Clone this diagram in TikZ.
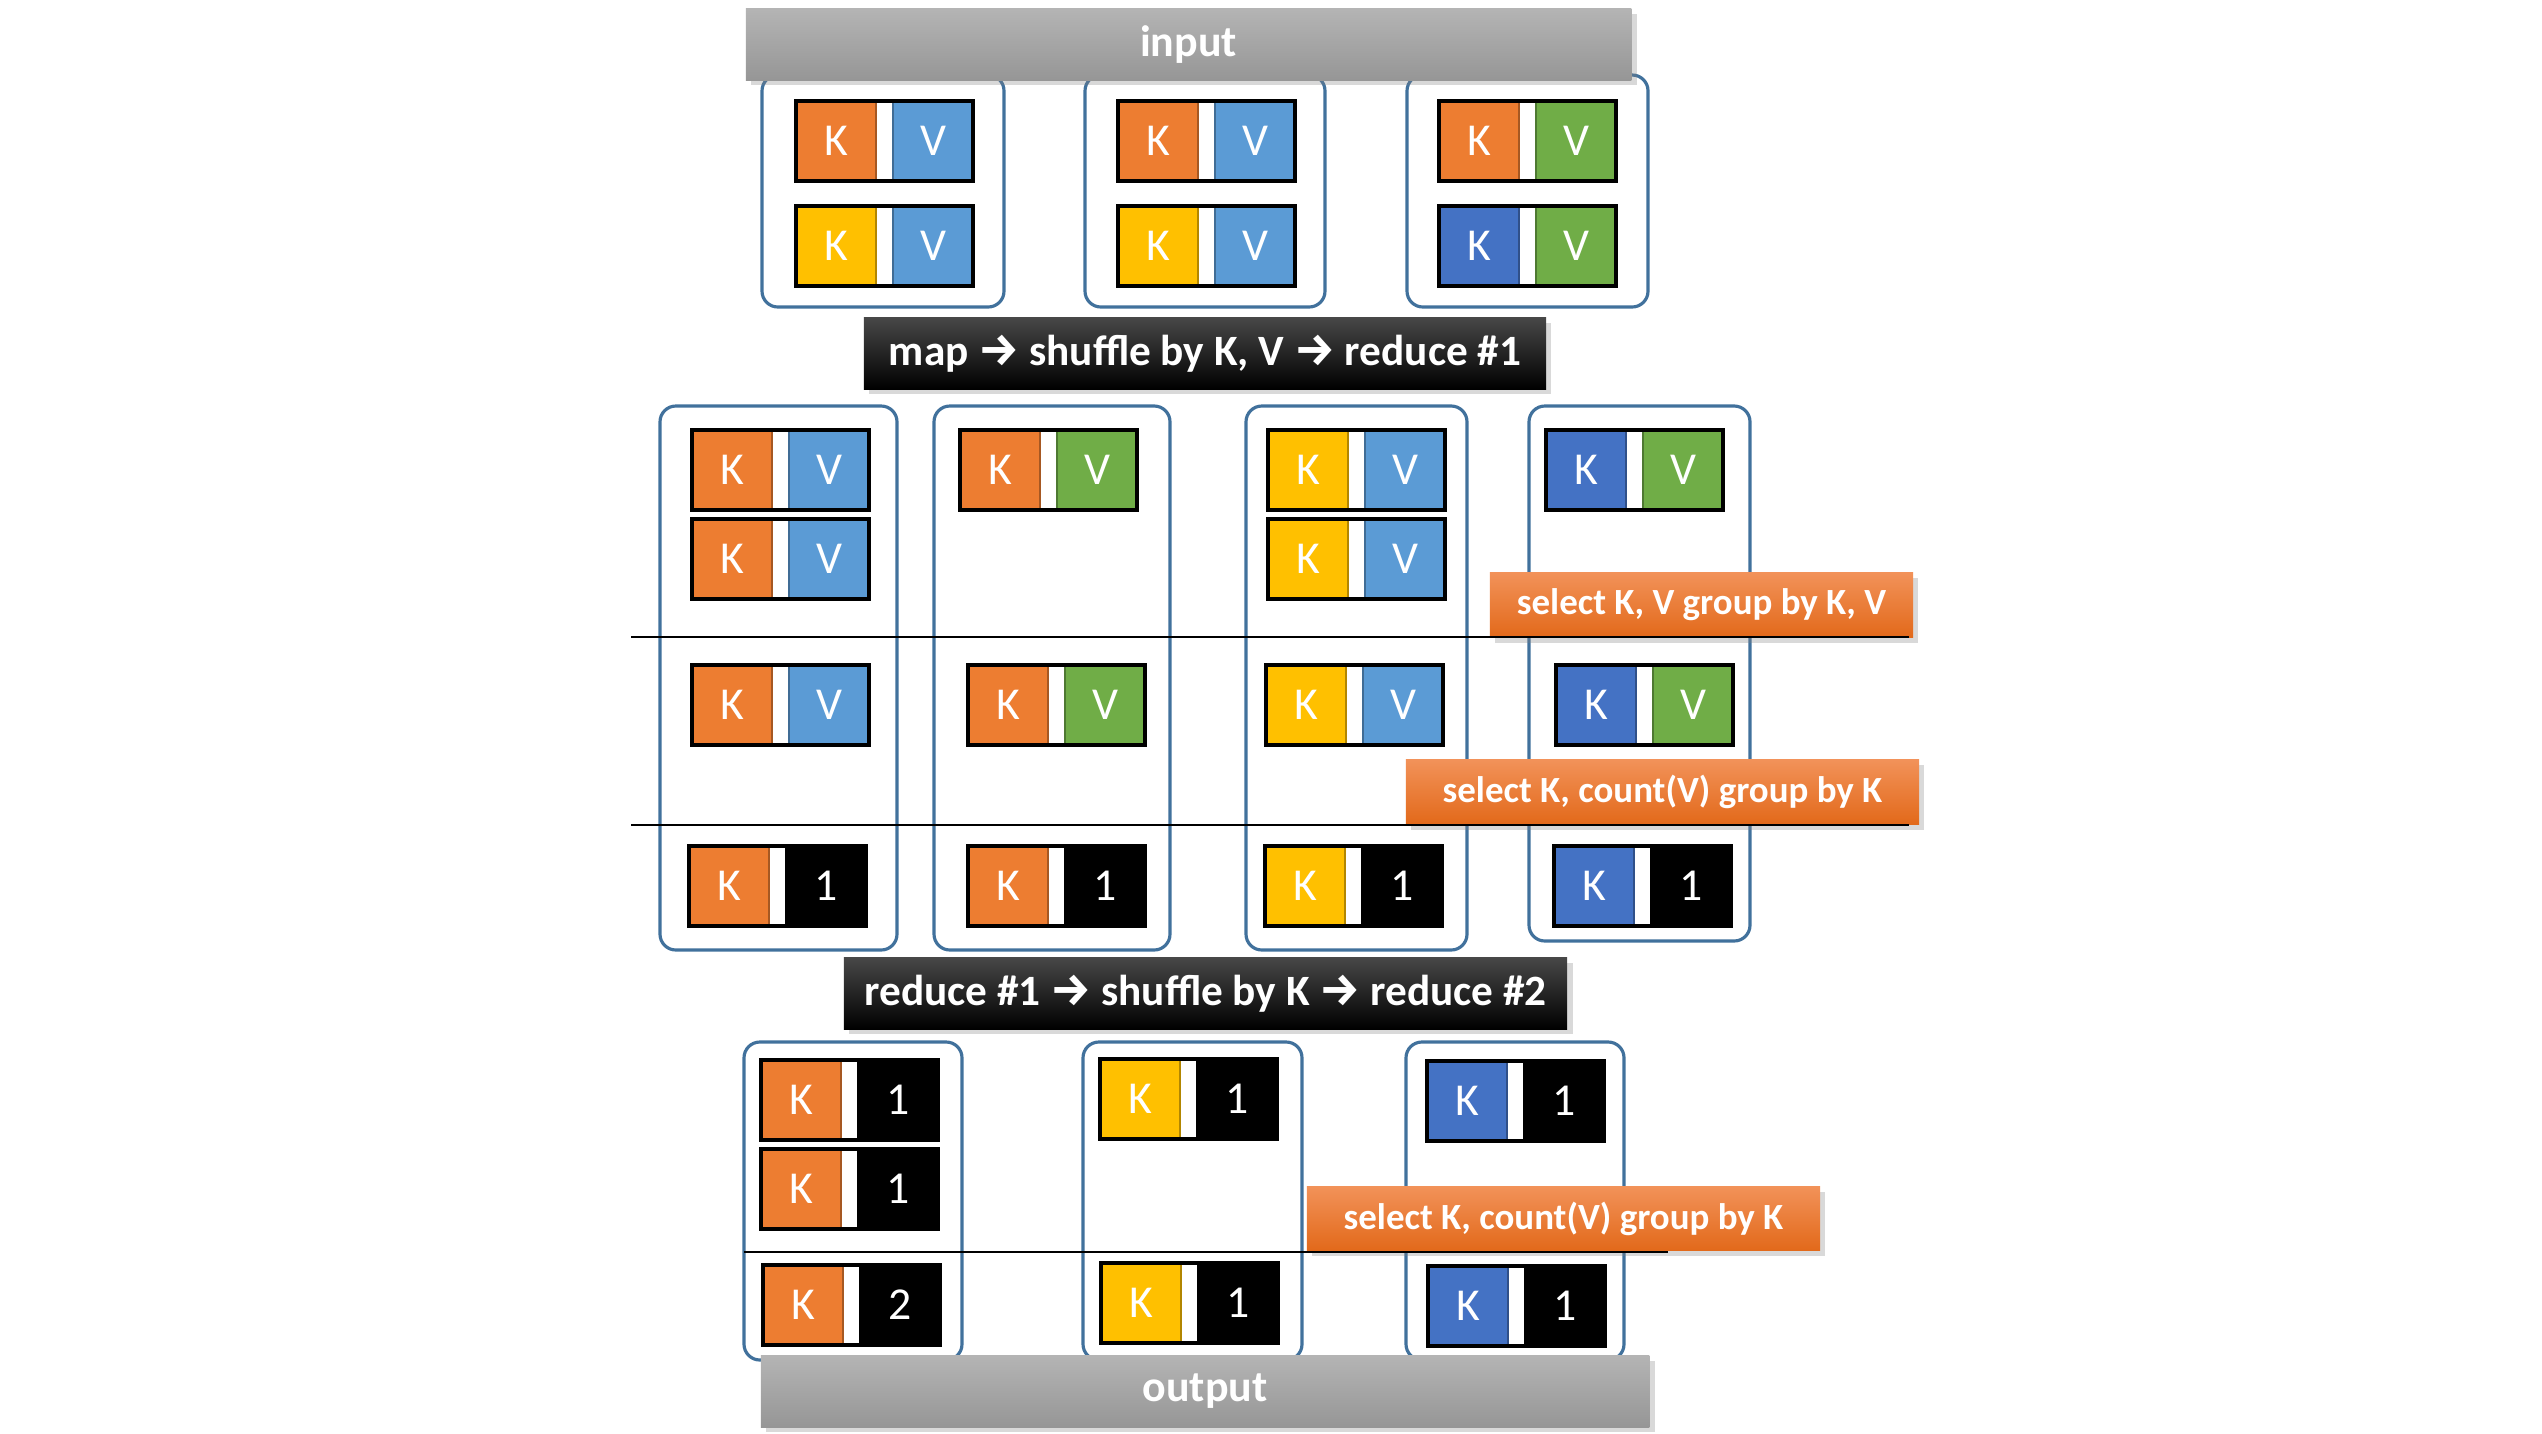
\documentclass[tikz,border=0pt]{standalone}
\usepackage{fontspec}
\setmainfont{Carlito}
\newfontfamily\arrowfont{Fira Sans}
\usetikzlibrary{shadows}

\definecolor{korange}{HTML}{ED7D31}
\definecolor{kyellow}{HTML}{FFC000}
\definecolor{kblue}{HTML}{4472C4}
\definecolor{vblue}{HTML}{5B9BD5}
\definecolor{vgreen}{HTML}{70AD47}
\definecolor{boxline}{HTML}{41719C}
\definecolor{graytop}{HTML}{B4B4B4}
\definecolor{graybot}{HTML}{969696}
\definecolor{sqltop}{HTML}{F29259}
\definecolor{sqlbot}{HTML}{E2691A}

\newcommand{\arr}{{\arrowfont\bfseries\fontsize{13}{15}\selectfont →}}

\tikzset{
  grpbox/.style={draw=boxline, line width=0.9pt, rounded corners=4.5pt, fill=white},
  kvtext/.style={text=white, inner sep=0pt, font=\fontsize{13}{15}\selectfont},
  barshadow/.style={drop shadow={opacity=0.3, shadow xshift=1.5pt, shadow yshift=-1.5pt}},
  graybar/.style={minimum width=#1, minimum height=0.71cm, inner sep=0pt,
    top color=graytop, bottom color=graybot, text=white,
    font=\bfseries\fontsize{12.5}{15}\selectfont, barshadow},
  blackbar/.style={minimum width=#1, minimum height=0.71cm, inner sep=0pt,
    top color=black!72, middle color=black, bottom color=black, text=white,
    font=\bfseries\fontsize{12.3}{15}\selectfont, barshadow},
  sqlbar/.style={minimum width=#1, minimum height=0.645cm, inner sep=0pt,
    top color=sqltop, middle color=korange, bottom color=sqlbot, text=white,
    font=\bfseries\fontsize{10.5}{12}\selectfont, barshadow},
  sepline/.style={line width=0.8pt}
}

% one key/value cell: x, y, key colour, value colour, value text, name
\newcommand{\kvpair}[6]{%
  \fill[white] (#1,#2) rectangle ++(177,80);
  \fill[fill=#3] (#1,#2) rectangle ++(80,80);
  \fill[fill=#4] (#1+97,#2) rectangle ++(80,80);
  \draw[draw=#3!70!black, line width=0.6pt] (#1+80,#2) -- ++(0,80);
  \draw[draw=#4!70!black, line width=0.6pt] (#1+97,#2) -- ++(0,80);
  \draw[line width=1.1pt] (#1,#2) rectangle ++(177,80);
  \node[kvtext] (#6-k) at (#1+40,#2+40) {K};
  \node[kvtext] (#6-v) at (#1+137,#2+40) {#5};
}

\begin{document}
\begin{tikzpicture}[x=0.01cm, y=-0.01cm]
  \useasboundingbox (0,0) rectangle (2542,1433);

  % groups
  \foreach \x/\y/\w/\h in {762/75/242/232, 1085/75/240/232, 1407/75/241/232,
    660/406/237/544, 934/406/236/544, 1246/406/221/544, 1529/406/221/535,
    744/1042/218/318, 1083/1042/219/318, 1406/1042/218/318}
  {
    \draw[grpbox] (\x,\y) rectangle ++(\w,\h);
  }

  % records
  \foreach \x/\y/\k/\v/\t/\n in {796/101/korange/vblue/V/ia, 796/206/kyellow/vblue/V/ib,
    1118/101/korange/vblue/V/ic, 1118/206/kyellow/vblue/V/id,
    1439/101/korange/vgreen/V/ie, 1439/206/kblue/vgreen/V/if,
    692/430/korange/vblue/V/ma, 692/519/korange/vblue/V/mb,
    960/430/korange/vgreen/V/mc,
    1268/430/kyellow/vblue/V/md, 1268/519/kyellow/vblue/V/me,
    1546/430/kblue/vgreen/V/mf,
    692/665/korange/vblue/V/ga, 968/665/korange/vgreen/V/gb,
    1266/665/kyellow/vblue/V/gc, 1556/665/kblue/vgreen/V/gd,
    689/846/korange/black/1/ca, 968/846/korange/black/1/cb,
    1265/846/kyellow/black/1/cc, 1554/846/kblue/black/1/cd,
    761/1060/korange/black/1/ra, 761/1149/korange/black/1/rb,
    1100/1059/kyellow/black/1/rc, 1427/1061/kblue/black/1/rd,
    763/1265/korange/black/2/sa, 1101/1263/kyellow/black/1/sb,
    1428/1266/kblue/black/1/sc}
  {
    \kvpair{\x}{\y}{\k}{\v}{\t}{\n}
  }

  % sql steps
  \node[sqlbar=4.23cm] (sqla) at (1701.5,605) {select K, V group by K, V};
  \node[sqlbar=5.13cm] (sqlb) at (1662.5,792) {select K, count(V) group by K};
  \node[sqlbar=5.13cm] (sqlc) at (1563.5,1218.5) {select K, count(V) group by K};

  \draw[sepline] (631,637) -- (1909,637);
  \draw[sepline] (631,825) -- (1909,825);
  \draw[sepline] (744,1252) -- (1668,1252);

  % stages
  \node[graybar=8.85cm] (input) at (1188.5,44.5) {input};
  \node[blackbar=6.82cm] (mapbar) at (1205,353.5)
    {map \arr{} shuffle by K, V \arr{} reduce \#1};
  \node[blackbar=7.23cm] (redbar) at (1205.5,993.5)
    {reduce \#1 \arr{} shuffle by K \arr{} reduce \#2};
  \node[graybar=8.88cm] (output) at (1205,1391.5) {output};
\end{tikzpicture}
\end{document}
